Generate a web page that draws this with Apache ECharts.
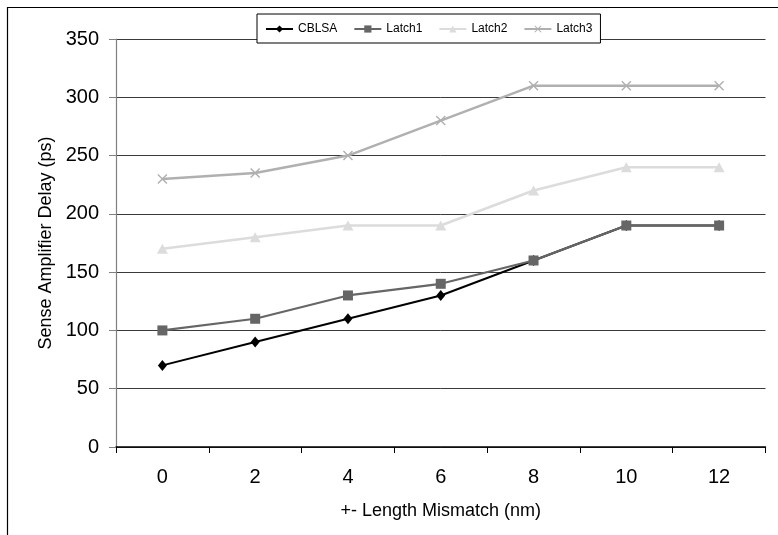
<!DOCTYPE html>
<html>
<head>
<meta charset="utf-8">
<script src="https://cdn.jsdelivr.net/npm/echarts@6/dist/echarts.min.js"></script>
<style>
html,body{margin:0;padding:0;background:#fff;}
#chart{width:778px;height:535px;}
</style>
</head>
<body>
<div id="chart"></div>
<script>
const categories = ['0', '2', '4', '6', '8', '10', '12'];
const cblsa  = [70, 90, 110, 130, 160, 190, 190];
const latch1 = [100, 110, 130, 140, 160, 190, 190];
const latch2 = [170, 180, 190, 190, 220, 240, 240];
const latch3 = [230, 235, 250, 280, 310, 310, 310];
const seriesNames = ['CBLSA', 'Latch1', 'Latch2', 'Latch3'];

const FONT = '"Liberation Sans", Arial, sans-serif';
const crossPath = 'path://M0,1 L1,0 L5,4 L9,0 L10,1 L6,5 L10,9 L9,10 L5,6 L1,10 L0,9 L4,5 Z';

const chart = echarts.init(document.getElementById('chart'), null, {renderer: 'canvas'});
chart.setOption({
  animation: false,
  backgroundColor: '#fff',
  textStyle: {fontFamily: FONT},
  graphic: [{
    type: 'rect',
    shape: {x: 7.5, y: 7.5, width: 1000, height: 1000},
    style: {fill: 'none', stroke: '#000', lineWidth: 1.2},
    silent: true, z: 0
  }],
  grid: {left: 116, top: 39, right: 12.5, bottom: 88, containLabel: false},
  legend: {
    left: 257, top: 14,
    padding: [9, 8, 8, 8],
    itemGap: 16,
    itemWidth: 27, itemHeight: 9,
    backgroundColor: '#fff',
    borderColor: '#000', borderWidth: 1,
    textStyle: {fontFamily: FONT, fontSize: 12, color: '#000'},
    data: seriesNames
  },
  xAxis: {
    type: 'category',
    data: categories,
    boundaryGap: true,
    name: '+- Length Mismatch (nm)',
    nameLocation: 'middle',
    nameGap: 55,
    nameTextStyle: {fontFamily: FONT, fontSize: 18, color: '#000'},
    axisLine: {lineStyle: {color: '#000', width: 1.5}},
    axisTick: {show: true, interval: 0, alignWithLabel: false, length: 6, lineStyle: {color: '#000', width: 1}},
    axisLabel: {fontFamily: FONT, fontSize: 20, color: '#000', margin: 20, interval: 0},
    splitLine: {show: false}
  },
  yAxis: {
    type: 'value',
    min: 0, max: 350, interval: 50,
    name: 'Sense Amplifier Delay (ps)',
    nameLocation: 'middle',
    nameRotate: 90,
    nameGap: 59,
    nameTextStyle: {fontFamily: FONT, fontSize: 18, color: '#000'},
    axisLine: {show: true, lineStyle: {color: '#808080', width: 1.2}},
    axisTick: {show: true, length: 7, lineStyle: {color: '#808080', width: 1}},
    axisLabel: {fontFamily: FONT, fontSize: 20, color: '#000', margin: 17},
    splitLine: {show: true, lineStyle: {color: '#3a3a3a', width: 1}}
  },
  series: [
    {
      name: 'CBLSA', type: 'line', data: cblsa,
      symbol: 'diamond', symbolSize: [9, 11],
      lineStyle: {color: '#000', width: 2},
      itemStyle: {color: '#000'}, z: 3
    },
    {
      name: 'Latch1', type: 'line', data: latch1,
      symbol: 'rect', symbolSize: 10,
      lineStyle: {color: '#666', width: 2.2},
      itemStyle: {color: '#666'}, z: 4
    },
    {
      name: 'Latch2', type: 'line', data: latch2,
      symbol: 'triangle', symbolSize: [11, 10],
      lineStyle: {color: '#dcdcdc', width: 2.5},
      itemStyle: {color: '#dcdcdc'}, z: 5
    },
    {
      name: 'Latch3', type: 'line', data: latch3,
      symbol: crossPath, symbolSize: 10,
      lineStyle: {color: '#b0b0b0', width: 2.5},
      itemStyle: {color: '#b0b0b0'}, z: 6
    }
  ]
});
</script>
</body>
</html>
